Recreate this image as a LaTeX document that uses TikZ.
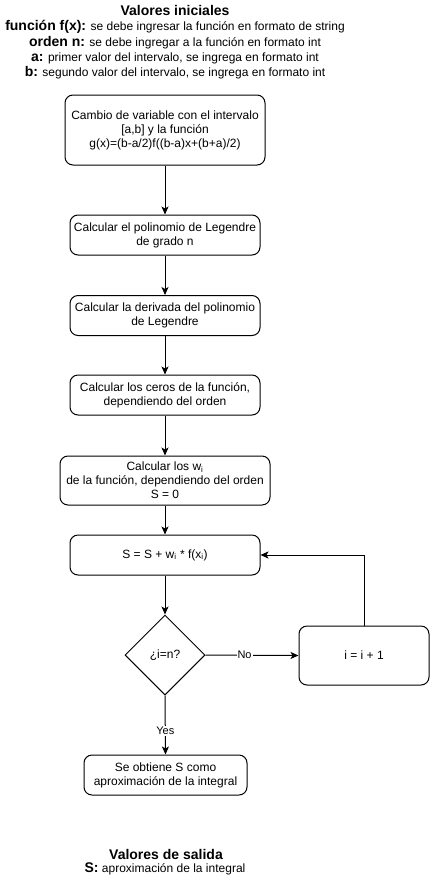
\documentclass[tikz,border=0pt]{standalone}
\usepackage{fontspec}
\setmainfont{Liberation Sans}
\usetikzlibrary{arrows.meta,shapes.geometric}
\begin{document}
\begin{tikzpicture}[x=1pt,y=-1pt,
  box/.style={draw,line width=1pt,rounded corners=8pt,align=center,font=\fontsize{12}{14}\selectfont,inner sep=0pt},
  dia/.style={draw,line width=1pt,diamond,align=center,font=\fontsize{12}{14}\selectfont,inner sep=0pt,minimum width=80pt,minimum height=80pt},
  arr/.style={-{Stealth[length=8pt,width=7pt,inset=2pt]},line width=1pt},
  lbl/.style={fill=white,font=\fontsize{11}{13}\selectfont,inner sep=1pt},
  big/.style={font=\fontsize{14}{16}\selectfont\bfseries},
  reg/.style={font=\fontsize{12}{14}\selectfont}]
\useasboundingbox[fill=white] (0,0) rectangle (430,876);

% header
\node[big,anchor=base] (t1) at (175,15) {Valores iniciales};
\node[reg,anchor=base] (t2) at (175,30) {{\fontsize{14}{16}\selectfont\bfseries función f(x):} se debe ingresar la función en formato de string};
\node[reg,anchor=base] (t3) at (175,46) {{\fontsize{14}{16}\selectfont\bfseries orden n:} se debe ingregar a la función en formato int};
\node[reg,anchor=base] (t4) at (175,61.5) {{\fontsize{14}{16}\selectfont\bfseries a:} primer valor del intervalo, se ingrega en formato int};
\node[reg,anchor=base] (t5) at (175,76.5) {{\fontsize{14}{16}\selectfont\bfseries b:} segundo valor del intervalo, se ingrega en formato int};

% boxes
\node[box,minimum width=200pt,minimum height=70pt] (b1) at (165,130) {Cambio de variable con el intervalo\\ {[a,b] y la función}\\ g(x)=(b-a/2)f((b-a)x+(b+a)/2)};
\node[box,minimum width=190pt,minimum height=40pt] (b2) at (165,235) {Calcular el polinomio de Legendre\\ de grado n};
\node[box,minimum width=190pt,minimum height=40pt] (b3) at (165,315.5) {Calcular la derivada del polinomio\\ de Legendre};
\node[box,minimum width=190pt,minimum height=40pt] (b4) at (165,395) {Calcular los ceros de la función,\\ dependiendo del orden};
\node[box,minimum width=210pt,minimum height=49pt] (b5) at (165,480.5) {Calcular los w\textsubscript{i}\\ de la función, dependiendo del orden\\ S = 0};
\node[box,minimum width=190pt,minimum height=40pt] (b6) at (165,555) {S = S + w\textsubscript{i} * f(x\textsubscript{i})};
\node[dia] (d) at (165,655) {¿i=n?};
\node[box,minimum width=130pt,minimum height=59pt] (b7) at (364,655.5) {i = i + 1};
\node[box,minimum width=163pt,minimum height=40pt] (b8) at (165.5,775) {Se obtiene S como\\ aproximación de la integral};

% footer
\node[big,anchor=base] (f1) at (166,859) {Valores de salida};
\node[reg,anchor=base] (f2) at (165,872) {{\fontsize{14}{16}\selectfont\bfseries S:} aproximación de la integral};

% connectors
\draw[arr] (b1.south) -- (b2.north);
\draw[arr] (b2.south) -- (b3.north);
\draw[arr] (b3.south) -- (b4.north);
\draw[arr] (b4.south) -- (b5.north);
\draw[arr] (b5.south) -- (b6.north);
\draw[arr] (b6.south) -- (d.north);
\draw[arr] (d.east) -- node[lbl,pos=0.42] {No} (b7.west);
\draw[arr] (b7.north) |- (b6.east);
\draw[arr] (d.south) -- node[lbl,pos=0.6] {Yes} (b8.north);
\end{tikzpicture}
\end{document}
